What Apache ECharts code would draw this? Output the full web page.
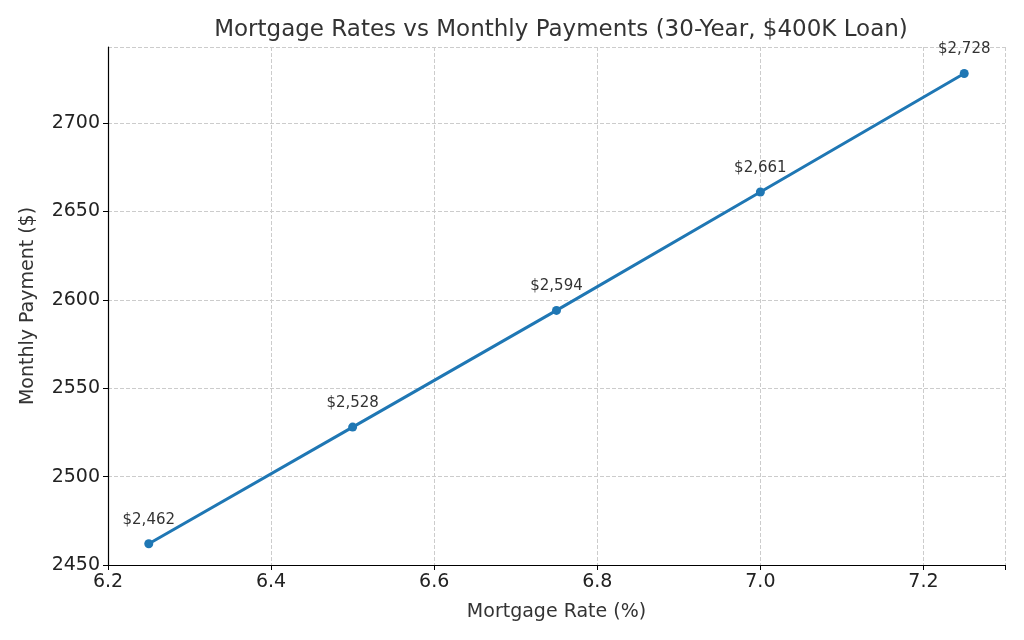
<!DOCTYPE html>
<html><head><meta charset="utf-8">
<script src="https://cdn.jsdelivr.net/npm/echarts@6/dist/echarts.min.js"></script>
<style>html,body{margin:0;padding:0;background:#fff}#c{width:1024px;height:640px}</style>
</head><body><div id="c"></div>
<script>
const rates = [6.25, 6.5, 6.75, 7.0, 7.25];
const payments = [2462, 2528, 2594, 2661, 2728];
const chart = echarts.init(document.getElementById('c'));
const font = 'DejaVu Sans';
chart.setOption({
  animation: false,
  title: {text: 'Mortgage Rates vs Monthly Payments (30-Year, $400K Loan)', left: 556, textAlign: 'center', top: 14,
    textStyle: {fontFamily: font, fontSize: 23, fontWeight: 'normal', color: '#333'}},
  grid: {left: 108, right: 19, top: 47, bottom: 75},
  xAxis: {type: 'value', min: 6.2, max: 7.3, interval: 0.2, name: 'Mortgage Rate (%)', nameLocation: 'middle', nameGap: 38,
    nameTextStyle: {fontFamily: font, fontSize: 19, color: '#333'},
    axisLine: {lineStyle: {color: '#000', width: 1.2}}, axisTick: {show: true, lineStyle: {color: '#000'}},
    axisLabel: {fontFamily: font, fontSize: 19, color: '#222', formatter: v => v <= 7.21 ? v.toFixed(1) : ''},
    splitLine: {lineStyle: {type: 'dashed', color: '#ccc'}}},
  yAxis: {type: 'value', min: 2450, max: 2743, interval: 50, name: 'Monthly Payment ($)', nameLocation: 'middle', nameGap: 70,
    nameTextStyle: {fontFamily: font, fontSize: 19, color: '#333'},
    axisLine: {show: true, lineStyle: {color: '#000', width: 1.2}}, axisTick: {show: true, lineStyle: {color: '#000'}},
    axisLabel: {fontFamily: font, fontSize: 19, color: '#222', showMaxLabel: false, formatter: v => String(v)},
    splitLine: {lineStyle: {type: 'dashed', color: '#ccc'}}},
  series: [{type: 'line', data: rates.map((r, i) => [r, payments[i]]), symbol: 'circle', symbolSize: 9,
    lineStyle: {color: '#1f77b4', width: 3}, itemStyle: {color: '#1f77b4'},
    label: {show: true, position: 'top', distance: 12, fontFamily: font, fontSize: 15, color: '#333',
      formatter: p => '$' + p.value[1].toLocaleString('en-US')}}]
});
</script></body></html>
